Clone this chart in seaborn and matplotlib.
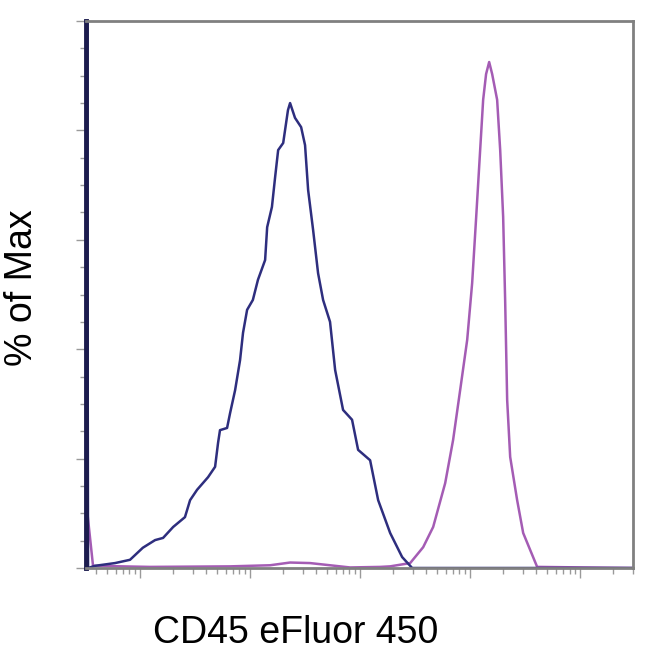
import numpy as np
import pandas as pd
import matplotlib
matplotlib.use("Agg")
import matplotlib.pyplot as plt
import seaborn as sns
from matplotlib.ticker import LogLocator, NullFormatter, FixedLocator

# ---- data (fluorescence intensity, % of max) ----
blue_x = [3.23, 3.30, 3.37, 3.90, 5.93, 8.11, 10.6, 13.7, 16.2, 20.0, 25.6, 28.5, 33.0,
          41.5, 48.1, 51.2, 53.3, 61.8, 65.8, 73.1, 81.1, 86.3, 94.0, 106, 118, 137,
          143, 158, 169, 180, 200, 221, 231, 256, 291, 316, 337, 374, 415, 461, 533,
          593, 700, 845, 959, 1233, 1459, 1875, 2410, 2972, 302000]
blue_y = [0, 100, 0, 0.4, 0.9, 1.5, 3.7, 5.1, 5.5, 7.5, 9.3, 12.4, 14.3,
          16.6, 18.5, 22.9, 25.2, 25.6, 28.3, 32.5, 38.0, 43.0, 47.2, 49.0, 52.7, 56.3,
          62.3, 66.0, 71.5, 76.4, 77.7, 83.7, 85.0, 82.3, 80.6, 77.3, 69.1, 61.8, 53.9, 49.0, 45.0,
          36.2, 28.9, 27.1, 21.6, 19.7, 12.4, 6.4, 2.0, 0, 0]

pink_x = [3.23, 3.74, 12.3, 65.8, 152, 231, 351, 533, 811, 1520, 1875, 2851, 3741, 4613,
          5929, 7000, 8111, 9400, 10430, 11350, 12330, 13130, 13960, 14890, 15850, 17590,
          18750, 19950, 20800, 21700, 23110, 26740, 30340, 40640, 302000]
pink_y = [12.4, 0.4, 0.2, 0.3, 0.5, 1.0, 0.9, 0.5, 0.1, 0.2, 0.3, 0.9, 3.8, 7.5,
          15.5, 23.4, 32.5, 41.7, 52.1, 64.2, 76.4, 85.6, 90.3, 92.5, 90.3, 85.6,
          76.4, 64.2, 49.0, 30.7, 20.3, 12.4, 6.4, 0.2, 0]

blue_df = pd.DataFrame({"x": blue_x, "y": blue_y})
pink_df = pd.DataFrame({"x": pink_x, "y": pink_y})

sns.set_theme(style="white")
plt.rcParams['font.family'] = ['Liberation Sans', 'DejaVu Sans']

fig = plt.figure(figsize=(6.5, 6.5), dpi=100)
ax = fig.add_axes([86/650, 1-568/650, (633-86)/650, (568-21)/650])

sns.lineplot(data=pink_df, x="x", y="y", ax=ax, color="#a45cb4", lw=1.8, sort=False)
sns.lineplot(data=blue_df, x="x", y="y", ax=ax, color="#2e2e7e", lw=1.8, sort=False)

ax.set_xscale("log")
ax.set_xlim(10**0.509, 10**5.48)
ax.set_ylim(0, 100)

ax.xaxis.set_major_locator(LogLocator(base=10, numticks=10))
ax.xaxis.set_minor_locator(LogLocator(base=10, subs=np.arange(2, 10), numticks=20))
ax.xaxis.set_major_formatter(NullFormatter())
ax.xaxis.set_minor_formatter(NullFormatter())
ax.yaxis.set_major_locator(FixedLocator([0, 20, 40, 60, 80, 100]))
ax.yaxis.set_minor_locator(FixedLocator([5, 10, 15, 25, 30, 35, 45, 50, 55, 65, 70, 75, 85, 90, 95]))
ax.yaxis.set_major_formatter(NullFormatter())

ax.tick_params(axis="both", which="major", direction="out", length=7, width=1, color="#9a9a9a",
               bottom=True, left=True)
ax.tick_params(axis="both", which="minor", direction="out", length=4, width=1, color="#9a9a9a",
               bottom=True, left=True)

for s in ["top", "right", "bottom"]:
    ax.spines[s].set_color("#808080")
    ax.spines[s].set_linewidth(2)
ax.spines["left"].set_color("#1c1c4e")
ax.spines["left"].set_linewidth(3.5)

ax.set_xlabel("")
ax.set_ylabel("")
fig.text(296/650, 1-633/650, "CD45 eFluor 450", fontsize=27, ha="center", va="center", color="#000000")
fig.text(22/650, 1-288/650, "% of Max", fontsize=27, rotation=90, ha="center", va="center", color="#000000")

fig.savefig("out.png", dpi=100, facecolor="white")
